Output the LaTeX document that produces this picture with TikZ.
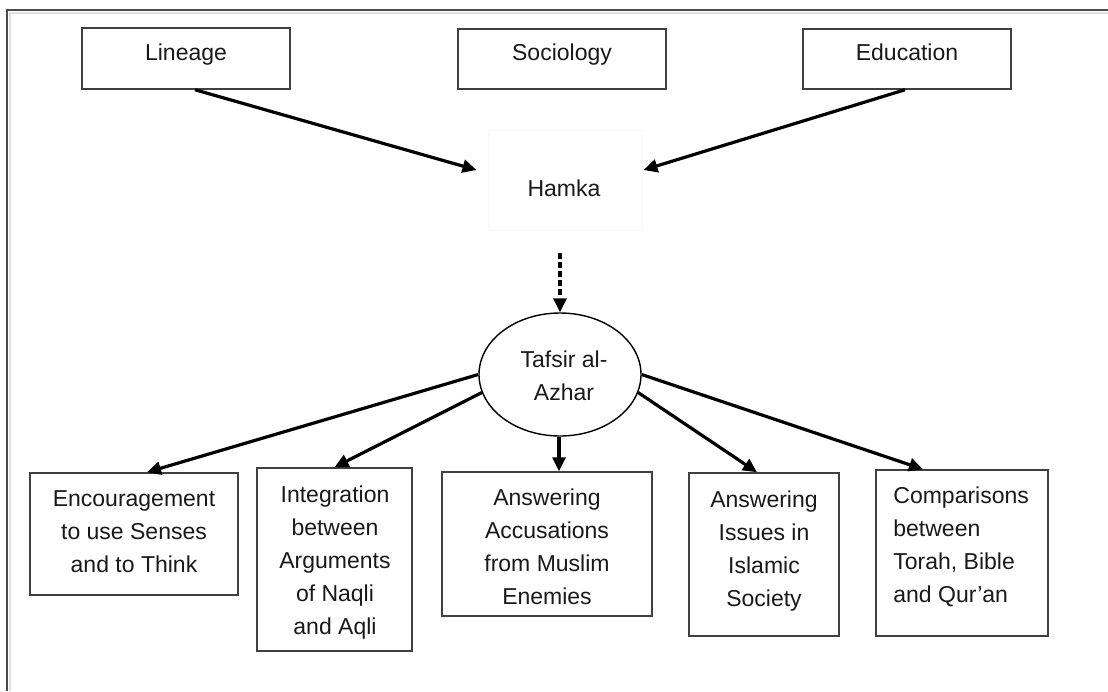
\documentclass[tikz,border=0pt]{standalone}
\usepackage{fontspec}
\setmainfont{Liberation Sans}
\usetikzlibrary{arrows.meta,calc,shapes.geometric}
\tikzset{
  box/.style={draw=black!75, line width=0.75pt, rectangle, inner sep=0pt},
  txt/.style={anchor=north, inner sep=0pt, align=center, text=black!90,
    font=\fontsize{11.5}{16.5}\selectfont},
  conn/.style={line width=1.6pt, -{Triangle[length=7pt,width=6.5pt]}},
}
\begin{document}
\begin{tikzpicture}[x=0.5pt,y=-0.5pt]
\useasboundingbox (0,0) rectangle (1108,691);
% frame
\draw[black!12, line width=1pt] (9.5,691) -- (9.5,12.5) -- (1108,12.5);
\draw[black!70, line width=1pt] (7,691) -- (7,10) -- (1108,10);

% top boxes
\node[box, minimum width=104pt, minimum height=30.5pt] (lin) at (186,58.5) {};
\node[box, minimum width=104pt, minimum height=30pt] (soc) at (562,59) {};
\node[box, minimum width=104pt, minimum height=30pt] (edu) at (907,59) {};
\node[txt] (lint) at (186,37) {\strut Lineage};
\node[txt] (soct) at (562,37) {\strut Sociology};
\node[txt] (edut) at (907,37) {\strut Education};

% Hamka
\node[draw=black!3, line width=0.5pt, rectangle, minimum width=77pt, minimum height=50pt, inner sep=0pt] (ham) at (565,180) {};
\node[txt] (hamt) at (564,173) {\strut Hamka};

% Tafsir
\node[draw=black, line width=0.7pt, ellipse, minimum width=81pt, minimum height=61.5pt, inner sep=0pt] (taf) at (560,374.5) {};
\node[txt] (taft) at (564,344) {\strut Tafsir al-\\Azhar};

% bottom boxes
\node[box, minimum width=104pt, minimum height=61pt] (enc) at (134,534) {};
\node[box, minimum width=77.5pt, minimum height=91.5pt] (integ) at (334.5,559.5) {};
\node[box, minimum width=105pt, minimum height=72pt] (acc) at (547,544) {};
\node[box, minimum width=75pt, minimum height=81.5pt] (iss) at (764,554.5) {};
\node[box, minimum width=86pt, minimum height=83pt] (cmp) at (962,553) {};

\node[txt] (enct) at (134,483) {\strut Encouragement\\to use Senses\\and to Think};
\node[txt] (integt) at (335,479) {\strut Integration\\between\\Arguments\\of Naqli\\and Aqli};
\node[txt] (acct) at (547,482) {\strut Answering\\Accusations\\from Muslim\\Enemies};
\node[txt] (isst) at (764,484) {\strut Answering\\Issues in\\Islamic\\Society};
\node[txt, anchor=north west, align=left] (cmpt) at (893,480) {\strut Comparisons\\between\\Torah, Bible\\and Qur’an};

% connectors
\draw[conn] ($(lin.south)+(9,0)$) -- ($(ham.west)+(-11,-10)$);
\draw[conn] ($(edu.south)+(-2,0)$) -- ($(ham.east)+(1,-10)$);
\draw[line width=1.6pt, dash pattern=on 3pt off 1.6pt, -{Triangle[length=7pt,width=6.5pt]}]
  ($(ham.south)+(-5,22)$) -- (taf.north);
\draw[conn] (taf.west) -- ($(enc.north)+(13,0)$);
\draw[conn] (taf.193) -- (integ.north);
\draw[conn] ($(taf.south)+(-1,0)$) -- ($(acc.north)+(12,0)$);
\draw[conn] (taf.-13) -- ($(iss.north)+(-7,0)$);
\draw[conn] (taf.east) -- ($(cmp.north)+(-39,0)$);
\end{tikzpicture}
\end{document}
